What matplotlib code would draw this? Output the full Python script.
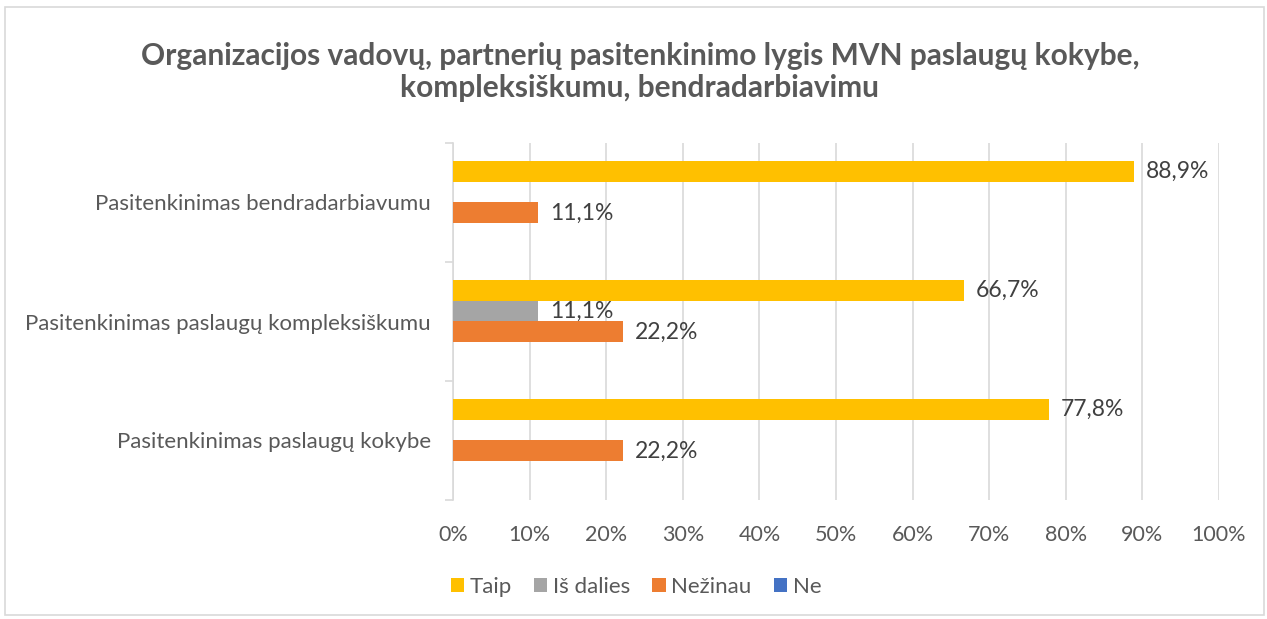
import matplotlib.pyplot as plt
from matplotlib.patches import Rectangle
import numpy as np

categories = ["Pasitenkinimas paslaugų kokybe",
              "Pasitenkinimas paslaugų kompleksiškumu",
              "Pasitenkinimas bendradarbiavumu"]
series_names = ["Taip", "Iš dalies", "Nežinau", "Ne"]
taip = [77.8, 66.7, 88.9]
is_dalies = [0.0, 11.1, 0.0]
nezinau = [22.2, 22.2, 11.1]
ne = [0.0, 0.0, 0.0]
colors = ["#FFC000", "#A5A5A5", "#ED7D31", "#4472C4"]
title = "Organizacijos vadovų, partnerių pasitenkinimo lygis MVN paslaugų kokybe,\nkompleksiškumu, bendradarbiavimu"

plt.rcParams["font.family"] = ["Lato", "DejaVu Sans"]
text_col = "#595959"
grid_col = "#D9D9D9"

W, H = 1267, 619
fig = plt.figure(figsize=(W / 100, H / 100), dpi=100)
ax = fig.add_axes([453 / W, 1 - 500 / H, (1219 - 453) / W, (500 - 143) / H])

fig.patches.append(Rectangle((5 / W, 4 / H), (W - 8) / W, (H - 11) / H,
                             transform=fig.transFigure, fill=False,
                             edgecolor=grid_col, linewidth=1.2))

y = np.arange(len(categories))
h = 0.176
offsets = [1.5 * h, 0.5 * h, -0.5 * h, -1.5 * h]
all_vals = [taip, is_dalies, nezinau, ne]
for name, vals, col, off in zip(series_names, all_vals, colors, offsets):
    ax.barh(y + off, vals, height=h, color=col, label=name, zorder=3)
    for yi, v in zip(y, vals):
        if v > 0:
            ax.text(v + 1.6, yi + off, f"{v:.1f}%".replace(".", ","),
                    va="center", ha="left", fontsize=16.5, color="#404040", zorder=4)

ax.set_xlim(0, 100)
ax.set_ylim(-0.5, len(categories) - 0.5)
ax.set_xticks(np.arange(0, 101, 10))
ax.set_xticklabels([f"{t}%" for t in range(0, 101, 10)])
ax.set_yticks(y)
ax.set_yticklabels(categories)
ax.set_yticks(np.arange(-0.5, len(categories), 1), minor=True)
ax.tick_params(axis="y", which="major", length=0, pad=16, labelsize=16, labelcolor=text_col)
ax.tick_params(axis="y", which="minor", length=6, color=grid_col, width=1.2)
ax.tick_params(axis="x", length=0, pad=18, labelsize=15.5, labelcolor=text_col)
ax.grid(axis="x", color=grid_col, linewidth=1.2, zorder=0)
for s in ["top", "right", "bottom"]:
    ax.spines[s].set_visible(False)
ax.spines["left"].set_color(grid_col)
ax.spines["left"].set_linewidth(1.2)

fig.text(640 / W, 1 - 72 / H, title, ha="center", va="center", fontsize=21.5,
         fontweight="bold", color=text_col, linespacing=1.2)

fig.legend(loc="center", bbox_to_anchor=(636 / W, 1 - 587 / H), ncol=4, frameon=False,
           fontsize=16, labelcolor=text_col, handlelength=0.6, handleheight=0.6,
           handletextpad=0.25, columnspacing=1.0)

fig.savefig("out.png", dpi=100)
